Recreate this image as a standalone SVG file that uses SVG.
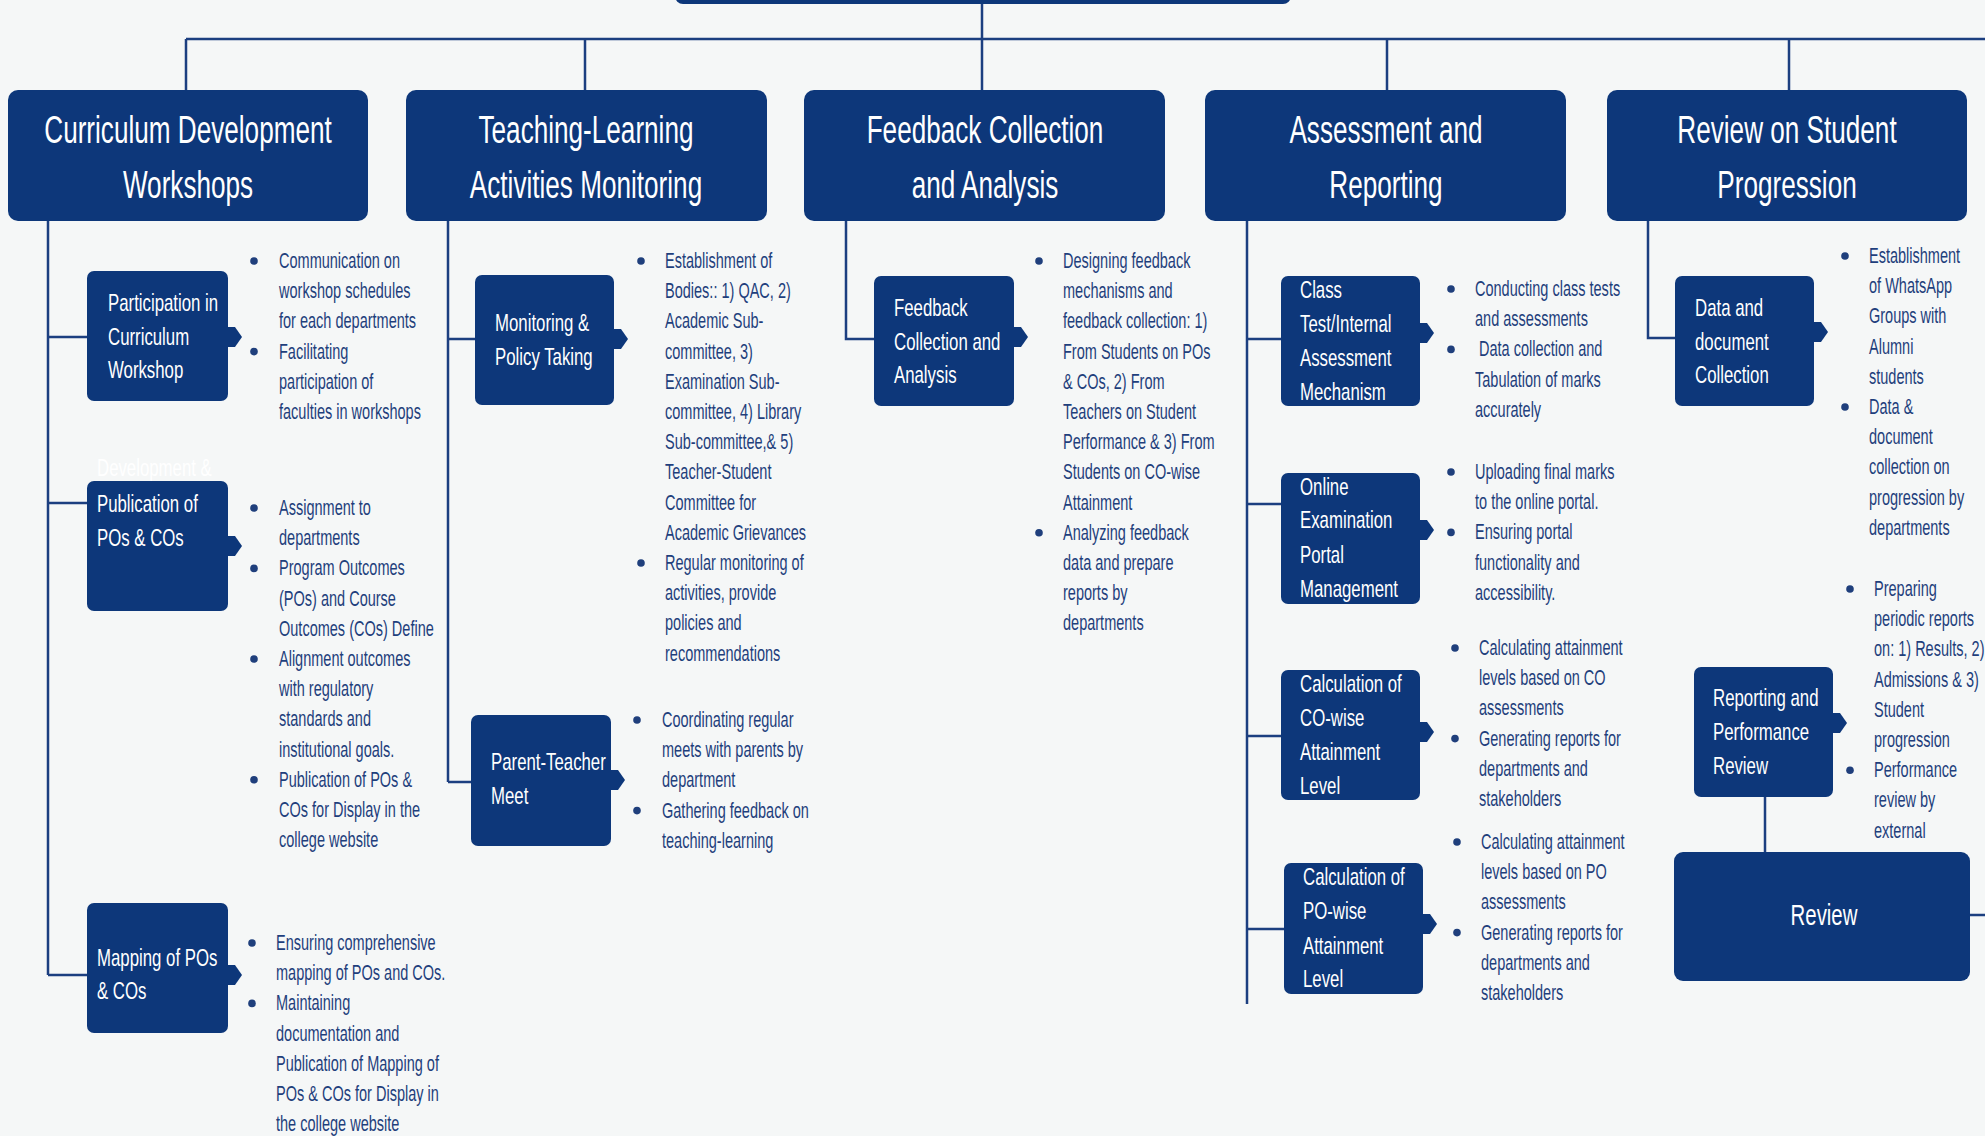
<svg xmlns="http://www.w3.org/2000/svg" width="1985" height="1136" viewBox="0 0 1985 1136">
<style>
.bg{fill:#f5f7f7}
.box{fill:#0d377a}
.ln{stroke:#1c3f80;stroke-width:2.5;fill:none}
.tab{fill:#0d377a}
.h{font-family:"Liberation Sans",Arial,sans-serif;font-size:39px;fill:#ffffff;text-anchor:middle}
.s{font-family:"Liberation Sans",Arial,sans-serif;font-size:24px;fill:#ffffff}
.b{font-family:"Liberation Sans",Arial,sans-serif;font-size:22px;fill:#1f3f7c}
.r{font-family:"Liberation Sans",Arial,sans-serif;font-size:30px;fill:#ffffff;text-anchor:middle}
.dot{fill:#1f3f7c}
</style>
<defs>
<polygon id="tabshape" points="0,-10 8,-10 15,0 8,10 0,10"/>
</defs>
<rect class="bg" x="0" y="0" width="1985" height="1136"/>

<g id="connectors">
<path class="ln" d="M982,4 V39 M186,39 H1985 M186,39 V90 M585,39 V90 M982,39 V90 M1387,39 V90 M1789,39 V90"/>
<path class="ln" d="M48,221 V975 M48,337 H87 M48,503 H87 M48,975 H87"/>
<path class="ln" d="M448,221 V782 M448,339 H475 M448,782 H471"/>
<path class="ln" d="M846,221 V339 H874"/>
<path class="ln" d="M1247,221 V1004 M1247,339 H1281 M1247,504 H1281 M1247,736 H1281 M1247,929 H1284"/>
<path class="ln" d="M1648,221 V338 H1675"/>
<path class="ln" d="M1765,797 V852 M1970,915 H1985"/>
</g>

<g id="root"><rect class="box" x="675" y="-40" width="616" height="44" rx="8"/></g>

<g id="h1"><rect class="box" x="8" y="90" width="360" height="131" rx="10"/>
<text class="h" transform="translate(188,0) scale(0.67,1)"><tspan x="0" y="143">Curriculum Development</tspan><tspan x="0" y="198">Workshops</tspan></text></g>
<g id="h2"><rect class="box" x="406" y="90" width="361" height="131" rx="10"/>
<text class="h" transform="translate(586,0) scale(0.67,1)"><tspan x="0" y="143">Teaching-Learning</tspan><tspan x="0" y="198">Activities Monitoring</tspan></text></g>
<g id="h3"><rect class="box" x="804" y="90" width="361" height="131" rx="10"/>
<text class="h" transform="translate(985,0) scale(0.67,1)"><tspan x="0" y="143">Feedback Collection</tspan><tspan x="0" y="198">and Analysis</tspan></text></g>
<g id="h4"><rect class="box" x="1205" y="90" width="361" height="131" rx="10"/>
<text class="h" transform="translate(1386,0) scale(0.67,1)"><tspan x="0" y="143">Assessment and</tspan><tspan x="0" y="198">Reporting</tspan></text></g>
<g id="h5"><rect class="box" x="1607" y="90" width="360" height="131" rx="10"/>
<text class="h" transform="translate(1787,0) scale(0.67,1)"><tspan x="0" y="143">Review on Student</tspan><tspan x="0" y="198">Progression</tspan></text></g>

<!-- Column 1 -->
<g id="s1"><rect class="box" x="87" y="271" width="141" height="130" rx="7"/><use href="#tabshape" class="tab" x="227" y="337"/>
<text class="s" transform="translate(108,0) scale(0.7,1)"><tspan x="0" y="311">Participation in</tspan><tspan x="0" y="345">Curriculum</tspan><tspan x="0" y="378">Workshop</tspan></text></g>
<g id="b1"><circle class="dot" cx="254" cy="261" r="3.8"/><circle class="dot" cx="254" cy="351.6" r="3.8"/>
<text class="b" transform="translate(279,268) scale(0.66,1)"><tspan x="0" y="0">Communication on</tspan><tspan x="0" dy="30.2">workshop schedules</tspan><tspan x="0" dy="30.2">for each departments</tspan><tspan x="0" dy="30.2">Facilitating</tspan><tspan x="0" dy="30.2">participation of</tspan><tspan x="0" dy="30.2">faculties in workshops</tspan></text></g>

<g id="s2"><rect class="box" x="87" y="481" width="141" height="130" rx="7"/><use href="#tabshape" class="tab" x="227" y="546"/>
<text class="s" transform="translate(97,0) scale(0.7,1)"><tspan x="0" y="476">Development &amp;</tspan><tspan x="0" y="512">Publication of</tspan><tspan x="0" y="546">POs &amp; COs</tspan></text></g>
<g id="b2"><circle class="dot" cx="254" cy="508" r="3.8"/><circle class="dot" cx="254" cy="568.4" r="3.8"/><circle class="dot" cx="254" cy="659" r="3.8"/><circle class="dot" cx="254" cy="779.8" r="3.8"/>
<text class="b" transform="translate(279,515) scale(0.66,1)"><tspan x="0" y="0">Assignment to</tspan><tspan x="0" dy="30.2">departments</tspan><tspan x="0" dy="30.2">Program Outcomes</tspan><tspan x="0" dy="30.2">(POs) and Course</tspan><tspan x="0" dy="30.2">Outcomes (COs) Define</tspan><tspan x="0" dy="30.2">Alignment outcomes</tspan><tspan x="0" dy="30.2">with regulatory</tspan><tspan x="0" dy="30.2">standards and</tspan><tspan x="0" dy="30.2">institutional goals.</tspan><tspan x="0" dy="30.2">Publication of POs &amp;</tspan><tspan x="0" dy="30.2">COs for Display in the</tspan><tspan x="0" dy="30.2">college website</tspan></text></g>

<g id="s3"><rect class="box" x="87" y="903" width="141" height="130" rx="7"/><use href="#tabshape" class="tab" x="227" y="975"/>
<text class="s" transform="translate(97,0) scale(0.7,1)"><tspan x="0" y="966">Mapping of POs</tspan><tspan x="0" y="999">&amp; COs</tspan></text></g>
<g id="b3"><circle class="dot" cx="252" cy="943" r="3.8"/><circle class="dot" cx="252" cy="1003.4" r="3.8"/>
<text class="b" transform="translate(276,950) scale(0.66,1)"><tspan x="0" y="0">Ensuring comprehensive</tspan><tspan x="0" dy="30.2">mapping of POs and COs.</tspan><tspan x="0" dy="30.2">Maintaining</tspan><tspan x="0" dy="30.2">documentation and</tspan><tspan x="0" dy="30.2">Publication of Mapping of</tspan><tspan x="0" dy="30.2">POs &amp; COs for Display in</tspan><tspan x="0" dy="30.2">the college website</tspan></text></g>

<!-- Column 2 -->
<g id="s4"><rect class="box" x="475" y="275" width="139" height="130" rx="7"/><use href="#tabshape" class="tab" x="613" y="339"/>
<text class="s" transform="translate(495,0) scale(0.7,1)"><tspan x="0" y="331">Monitoring &amp;</tspan><tspan x="0" y="365">Policy Taking</tspan></text></g>
<g id="b4"><circle class="dot" cx="641" cy="261" r="3.8"/><circle class="dot" cx="641" cy="563" r="3.8"/>
<text class="b" transform="translate(665,268) scale(0.66,1)"><tspan x="0" y="0">Establishment of</tspan><tspan x="0" dy="30.2">Bodies:: 1) QAC, 2)</tspan><tspan x="0" dy="30.2">Academic Sub-</tspan><tspan x="0" dy="30.2">committee, 3)</tspan><tspan x="0" dy="30.2">Examination Sub-</tspan><tspan x="0" dy="30.2">committee, 4) Library</tspan><tspan x="0" dy="30.2">Sub-committee,&amp; 5)</tspan><tspan x="0" dy="30.2">Teacher-Student</tspan><tspan x="0" dy="30.2">Committee for</tspan><tspan x="0" dy="30.2">Academic Grievances</tspan><tspan x="0" dy="30.2">Regular monitoring of</tspan><tspan x="0" dy="30.2">activities, provide</tspan><tspan x="0" dy="30.2">policies and</tspan><tspan x="0" dy="30.2">recommendations</tspan></text></g>

<g id="s5"><rect class="box" x="471" y="715" width="140" height="131" rx="7"/><use href="#tabshape" class="tab" x="610" y="780"/>
<text class="s" transform="translate(491,0) scale(0.7,1)"><tspan x="0" y="770">Parent-Teacher</tspan><tspan x="0" y="804">Meet</tspan></text></g>
<g id="b5"><circle class="dot" cx="637" cy="720" r="3.8"/><circle class="dot" cx="637" cy="810.6" r="3.8"/>
<text class="b" transform="translate(662,727) scale(0.66,1)"><tspan x="0" y="0">Coordinating regular</tspan><tspan x="0" dy="30.2">meets with parents by</tspan><tspan x="0" dy="30.2">department</tspan><tspan x="0" dy="30.2">Gathering feedback on</tspan><tspan x="0" dy="30.2">teaching-learning</tspan></text></g>

<!-- Column 3 -->
<g id="s6"><rect class="box" x="874" y="276" width="140" height="130" rx="7"/><use href="#tabshape" class="tab" x="1013" y="337"/>
<text class="s" transform="translate(894,0) scale(0.7,1)"><tspan x="0" y="316">Feedback</tspan><tspan x="0" y="350">Collection and</tspan><tspan x="0" y="383">Analysis</tspan></text></g>
<g id="b6"><circle class="dot" cx="1039" cy="261" r="3.8"/><circle class="dot" cx="1039" cy="532.8" r="3.8"/>
<text class="b" transform="translate(1063,268) scale(0.66,1)"><tspan x="0" y="0">Designing feedback</tspan><tspan x="0" dy="30.2">mechanisms and</tspan><tspan x="0" dy="30.2">feedback collection:  1)</tspan><tspan x="0" dy="30.2">From Students on POs</tspan><tspan x="0" dy="30.2">&amp; COs, 2) From</tspan><tspan x="0" dy="30.2">Teachers on Student</tspan><tspan x="0" dy="30.2">Performance &amp; 3) From</tspan><tspan x="0" dy="30.2">Students on CO-wise</tspan><tspan x="0" dy="30.2">Attainment</tspan><tspan x="0" dy="30.2">Analyzing feedback</tspan><tspan x="0" dy="30.2">data and prepare</tspan><tspan x="0" dy="30.2">reports by</tspan><tspan x="0" dy="30.2">departments</tspan></text></g>

<!-- Column 4 -->
<g id="s7"><rect class="box" x="1281" y="276" width="139" height="130" rx="7"/><use href="#tabshape" class="tab" x="1419" y="333"/>
<text class="s" transform="translate(1300,0) scale(0.7,1)"><tspan x="0" y="298">Class</tspan><tspan x="0" y="332">Test/Internal</tspan><tspan x="0" y="366">Assessment</tspan><tspan x="0" y="400">Mechanism</tspan></text></g>
<g id="b7"><circle class="dot" cx="1451" cy="289" r="3.8"/><circle class="dot" cx="1451" cy="349.4" r="3.8"/>
<text class="b" transform="translate(1475,296) scale(0.66,1)"><tspan x="0" y="0">Conducting class tests</tspan><tspan x="0" dy="30.2">and assessments</tspan><tspan x="6" dy="30.2">Data collection and</tspan><tspan x="0" dy="30.2">Tabulation of marks</tspan><tspan x="0" dy="30.2">accurately</tspan></text></g>

<g id="s8"><rect class="box" x="1281" y="473" width="139" height="131" rx="7"/><use href="#tabshape" class="tab" x="1419" y="530"/>
<text class="s" transform="translate(1300,0) scale(0.7,1)"><tspan x="0" y="495">Online</tspan><tspan x="0" y="528">Examination</tspan><tspan x="0" y="563">Portal</tspan><tspan x="0" y="597">Management</tspan></text></g>
<g id="b8"><circle class="dot" cx="1451" cy="472" r="3.8"/><circle class="dot" cx="1451" cy="532.4" r="3.8"/>
<text class="b" transform="translate(1475,479) scale(0.66,1)"><tspan x="0" y="0">Uploading final marks</tspan><tspan x="0" dy="30.2">to the online portal.</tspan><tspan x="0" dy="30.2">Ensuring portal</tspan><tspan x="0" dy="30.2">functionality and</tspan><tspan x="0" dy="30.2">accessibility.</tspan></text></g>

<g id="s9"><rect class="box" x="1281" y="670" width="139" height="130" rx="7"/><use href="#tabshape" class="tab" x="1419" y="732"/>
<text class="s" transform="translate(1300,0) scale(0.7,1)"><tspan x="0" y="692">Calculation of</tspan><tspan x="0" y="726">CO-wise</tspan><tspan x="0" y="760">Attainment</tspan><tspan x="0" y="794">Level</tspan></text></g>
<g id="b9"><circle class="dot" cx="1455" cy="648" r="3.8"/><circle class="dot" cx="1455" cy="738.6" r="3.8"/>
<text class="b" transform="translate(1479,655) scale(0.66,1)"><tspan x="0" y="0">Calculating attainment</tspan><tspan x="0" dy="30.2">levels based on CO</tspan><tspan x="0" dy="30.2">assessments</tspan><tspan x="0" dy="30.2">Generating reports for</tspan><tspan x="0" dy="30.2">departments and</tspan><tspan x="0" dy="30.2">stakeholders</tspan></text></g>

<g id="s10"><rect class="box" x="1284" y="863" width="139" height="131" rx="7"/><use href="#tabshape" class="tab" x="1422" y="924"/>
<text class="s" transform="translate(1303,0) scale(0.7,1)"><tspan x="0" y="885">Calculation of</tspan><tspan x="0" y="919">PO-wise</tspan><tspan x="0" y="954">Attainment</tspan><tspan x="0" y="987">Level</tspan></text></g>
<g id="b10"><circle class="dot" cx="1457" cy="842" r="3.8"/><circle class="dot" cx="1457" cy="932.6" r="3.8"/>
<text class="b" transform="translate(1481,849) scale(0.66,1)"><tspan x="0" y="0">Calculating attainment</tspan><tspan x="0" dy="30.2">levels based on PO</tspan><tspan x="0" dy="30.2">assessments</tspan><tspan x="0" dy="30.2">Generating reports for</tspan><tspan x="0" dy="30.2">departments and</tspan><tspan x="0" dy="30.2">stakeholders</tspan></text></g>

<!-- Column 5 -->
<g id="s11"><rect class="box" x="1675" y="276" width="139" height="130" rx="7"/><use href="#tabshape" class="tab" x="1813" y="332"/>
<text class="s" transform="translate(1695,0) scale(0.7,1)"><tspan x="0" y="316">Data and</tspan><tspan x="0" y="350">document</tspan><tspan x="0" y="383">Collection</tspan></text></g>
<g id="b11"><circle class="dot" cx="1845" cy="256" r="3.8"/><circle class="dot" cx="1845" cy="407" r="3.8"/>
<text class="b" transform="translate(1869,263) scale(0.66,1)"><tspan x="0" y="0">Establishment</tspan><tspan x="0" dy="30.2">of WhatsApp</tspan><tspan x="0" dy="30.2">Groups with</tspan><tspan x="0" dy="30.2">Alumni</tspan><tspan x="0" dy="30.2">students</tspan><tspan x="0" dy="30.2">Data &amp;</tspan><tspan x="0" dy="30.2">document</tspan><tspan x="0" dy="30.2">collection on</tspan><tspan x="0" dy="30.2">progression by</tspan><tspan x="0" dy="30.2">departments</tspan></text></g>

<g id="s12"><rect class="box" x="1694" y="667" width="139" height="130" rx="7"/><use href="#tabshape" class="tab" x="1832" y="723"/>
<text class="s" transform="translate(1713,0) scale(0.7,1)"><tspan x="0" y="706">Reporting and</tspan><tspan x="0" y="740">Performance</tspan><tspan x="0" y="774">Review</tspan></text></g>
<g id="b12"><circle class="dot" cx="1850" cy="589" r="3.8"/><circle class="dot" cx="1850" cy="770.2" r="3.8"/>
<text class="b" transform="translate(1874,596) scale(0.66,1)"><tspan x="0" y="0">Preparing</tspan><tspan x="0" dy="30.2">periodic reports</tspan><tspan x="0" dy="30.2">on: 1) Results, 2)</tspan><tspan x="0" dy="30.2">Admissions &amp; 3)</tspan><tspan x="0" dy="30.2">Student</tspan><tspan x="0" dy="30.2">progression</tspan><tspan x="0" dy="30.2">Performance</tspan><tspan x="0" dy="30.2">review by</tspan><tspan x="0" dy="30.2">external</tspan></text></g>

<g id="review"><rect class="box" x="1674" y="852" width="296" height="129" rx="9"/>
<text class="r" transform="translate(1824,925) scale(0.68,1)" x="0" y="0">Review</text></g>
</svg>
